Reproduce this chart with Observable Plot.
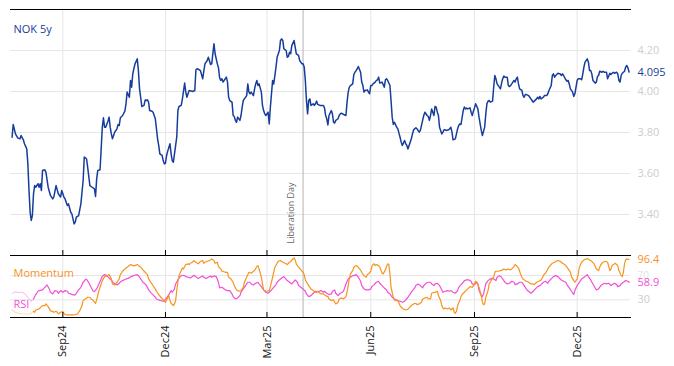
<!DOCTYPE html>
<html><head><meta charset="utf-8">
<script src="https://cdn.jsdelivr.net/npm/d3@7"></script>
<script src="https://cdn.jsdelivr.net/npm/@observablehq/plot@0.6"></script>
<style>
body{margin:0;background:#fff;font-family:"Open Sans",sans-serif;}
#wrap{position:relative;width:674px;height:366px;overflow:hidden;background:#fff;}
#top{position:absolute;left:0;top:0;}
#bot{position:absolute;left:0;top:250px;}
</style></head>
<body><div id="wrap"><div id="top"></div><div id="bot"></div></div>
<script>
// Day offsets are counted from 2024-09-01
const baseDate = "2024-09-01";
const monthTickDates = ["2024-09-01","2024-12-01","2025-03-01","2025-06-01","2025-09-01","2025-12-01"];
const eventDate = "2025-04-02";
const eventLabel = "Liberation Day";
const seriesName = "NOK 5y";
const nokTicks = [3.4, 3.6, 3.8, 4.0, 4.2];
const oscTicks = [30, 70];
const lastNok = 4.095, lastMom = 96.4, lastRsi = 58.9;
const warmupEnd = -26;

const nokSeries = [[-45,3.777],[-44,3.839],[-42,3.793],[-40,3.774],[-38,3.769],[-37,3.785],[-35,3.764],[-34,3.745],[-32,3.720],[-31,3.647],[-30,3.517],[-29,3.411],[-28,3.371],[-27,3.395],[-26,3.501],[-25,3.541],[-24,3.533],[-22,3.550],[-21,3.533],[-20,3.550],[-19,3.517],[-18,3.615],[-16,3.618],[-15,3.607],[-13,3.533],[-11,3.493],[-9,3.476],[-8,3.485],[-6,3.541],[-4,3.501],[-2,3.485],[-1,3.517],[1,3.485],[2,3.476],[4,3.444],[5,3.452],[7,3.411],[8,3.403],[9,3.379],[10,3.354],[11,3.363],[12,3.387],[14,3.395],[16,3.452],[18,3.566],[19,3.680],[21,3.672],[22,3.631],[24,3.541],[26,3.533],[28,3.525],[29,3.488],[30,3.574],[31,3.615],[33,3.618],[34,3.720],[35,3.826],[36,3.872],[37,3.826],[38,3.826],[40,3.855],[41,3.875],[42,3.826],[43,3.793],[44,3.769],[46,3.802],[47,3.810],[48,3.818],[49,3.839],[50,3.834],[51,3.872],[53,3.883],[55,3.904],[56,3.940],[57,3.997],[59,3.972],[60,4.054],[61,4.021],[62,4.086],[63,4.111],[64,4.135],[66,4.159],[67,4.102],[68,4.013],[69,3.972],[70,3.927],[72,3.932],[73,3.959],[74,3.956],[75,3.959],[76,3.948],[77,3.907],[79,3.904],[80,3.899],[82,3.867],[84,3.769],[85,3.737],[86,3.696],[88,3.688],[89,3.663],[90,3.647],[91,3.650],[92,3.688],[93,3.709],[95,3.745],[96,3.696],[97,3.663],[98,3.655],[99,3.696],[101,3.777],[102,3.907],[103,3.927],[105,3.932],[106,3.964],[108,4.041],[109,3.997],[110,3.972],[111,3.989],[112,4.005],[114,4.002],[115,4.000],[117,4.005],[118,4.106],[119,4.111],[121,4.106],[122,4.102],[124,4.062],[125,4.099],[126,4.135],[128,4.151],[129,4.167],[131,4.132],[132,4.135],[134,4.233],[135,4.184],[137,4.135],[138,4.115],[139,4.067],
[140,4.054],[141,4.062],[142,4.046],[144,4.062],[145,4.070],[146,4.046],[147,3.972],[148,3.956],[150,3.948],[151,3.883],[152,3.878],[153,3.859],[154,3.850],[155,3.875],[157,3.859],[158,3.883],[159,3.924],[160,3.956],[161,3.964],[163,3.980],[164,4.037],[165,3.997],[166,3.989],[167,3.997],[169,3.980],[170,4.013],[171,4.037],[172,4.054],[173,4.029],[174,4.037],[176,3.997],[177,3.932],[178,3.907],[179,3.891],[180,3.883],[182,3.899],[183,3.842],[184,3.924],[185,3.989],[186,4.054],[187,4.037],[189,4.119],[190,4.167],[192,4.200],[193,4.249],[194,4.257],[195,4.249],[196,4.208],[198,4.200],[199,4.167],[200,4.171],[201,4.192],[202,4.184],[203,4.224],[205,4.249],[206,4.216],[207,4.184],[208,4.180],[209,4.176],[210,4.151],[212,4.135],[213,4.135],[214,4.119],[215,4.054],[216,3.956],[217,3.891],[218,3.956],[219,3.964],[220,3.932],[222,3.940],[223,3.932],[224,3.940],[225,3.953],[226,3.937],[228,3.932],[229,3.932],[231,3.932],[232,3.920],[233,3.883],[234,3.867],[235,3.837],[236,3.883],[238,3.907],[239,3.891],[240,3.850],[241,3.846],[242,3.859],[244,3.867],[245,3.883],[246,3.891],[247,3.894],[249,3.888],[251,3.883],[252,3.948],[253,3.997],[254,4.021],[255,4.029],[257,4.037],[258,4.083],[259,4.094],[260,4.102],[261,4.111],[262,4.122],[264,4.094],[265,4.046],[266,4.029],[267,3.997],[268,4.005],[270,4.008],[271,3.997],[272,3.989],[273,4.029],[274,4.029],[275,4.037],[277,4.046],[278,4.054],[279,4.057],[280,4.070],[281,4.041],[283,4.046],[284,4.034],[285,4.021],[286,4.057],[287,4.062],[288,4.054],[290,4.029],[291,3.956],[292,3.875],[293,3.839],[294,3.850],[296,3.826],[297,3.818],[298,3.797],[299,3.777],[300,3.753],[301,3.737],[303,3.761],[304,3.745],[305,3.737],[306,3.720],[307,3.737],[309,3.769],[310,3.793],[311,3.813],[313,3.823],[314,3.818],[315,3.810],[316,3.802],[317,3.810],[319,3.859],[320,3.883],[321,3.899],
[323,3.883],[324,3.878],[325,3.859],[326,3.883],[327,3.915],[329,3.883],[330,3.927],[331,3.924],[332,3.899],[333,3.883],[334,3.826],[336,3.793],[337,3.802],[338,3.813],[339,3.813],[340,3.810],[342,3.813],[343,3.818],[344,3.826],[345,3.802],[346,3.764],[348,3.769],[349,3.793],[350,3.818],[351,3.834],[352,3.842],[353,3.839],[355,3.907],[356,3.924],[357,3.915],[358,3.919],[359,3.915],[361,3.920],[362,3.899],[363,3.883],[364,3.904],[365,3.920],[366,3.940],[368,3.915],[369,3.875],[370,3.842],[371,3.810],[372,3.785],[374,3.826],[375,3.891],[376,3.940],[377,3.953],[378,3.956],[379,3.948],[381,3.953],[382,4.021],[383,4.078],[384,4.062],[385,4.037],[387,4.021],[388,4.013],[389,4.041],[390,4.062],[391,4.075],[392,4.070],[394,4.070],[395,4.029],[396,4.024],[397,4.029],[398,4.037],[400,4.054],[401,4.046],[402,4.062],[403,4.070],[404,4.037],[405,4.013],[407,4.005],[408,3.980],[409,3.972],[410,3.985],[411,3.985],[413,3.980],[414,3.972],[415,3.964],[416,3.956],[417,3.948],[418,3.953],[420,3.964],[421,3.972],[422,3.964],[423,3.976],[424,3.964],[426,3.972],[427,3.980],[428,3.980],[429,3.980],[430,3.989],[431,4.005],[433,4.029],[434,4.078],[435,4.086],[436,4.070],[437,4.078],[439,4.089],[440,4.086],[441,4.086],[442,4.078],[443,4.086],[444,4.078],[446,4.057],[447,4.050],[448,4.054],[449,4.037],[450,4.013],[452,3.997],[453,3.976],[454,3.989],[455,4.021],[456,4.054],[457,4.062],[459,4.062],[460,4.057],[461,4.086],[462,4.119],[463,4.143],[465,4.159],[466,4.143],[467,4.102],[468,4.102],[469,4.086],[470,4.054],[472,4.041],[473,4.046],[474,4.073],[475,4.078],[476,4.099],[478,4.094],[479,4.099],[480,4.094],[481,4.094],[482,4.094],[483,4.062],[485,4.089],[486,4.083],[487,4.089],[488,4.094],[489,4.089],[491,4.094],[492,4.086],[493,4.054],[494,4.046],[495,4.078],[496,4.089],[498,4.099],[499,4.119],[500,4.127],[501,4.115],[502,4.095]];

const momentumSeries = [[-45,13.4],[-42,9.6],[-39,7.9],[-36,6.8],[-33,6.8],[-30,6.8],[-28,7.9],[-26,11.2],[-25,9.6],[-24,13.4],[-21,15.1],[-19,18.9],[-18,20.6],[-16,20.6],[-15,23.3],[-13,18.9],[-11,12.3],[-9,10.7],[-8,9.6],[-6,11.2],[-5,9.6],[-4,6.8],[-2,9.6],[0,10.7],[1,7.9],[2,5.8],[4,5.2],[6,5.2],[8,5.2],[9,5.2],[11,5.8],[13,6.8],[15,12.3],[17,20.6],[18,28.8],[20,31.5],[22,34.3],[24,34.3],[25,31.5],[27,28.8],[29,24.4],[30,29.9],[32,45.3],[34,56.2],[35,61.7],[37,68.3],[39,69.4],[41,71.6],[43,64.5],[44,56.2],[46,54.6],[48,59.0],[50,64.5],[51,71.6],[53,77.1],[55,80.9],[57,83.7],[59,86.4],[60,88.1],[62,86.4],[64,86.4],[66,88.1],[67,86.4],[69,83.7],[71,79.3],[73,75.4],[75,71.6],[76,64.5],[78,59.0],[80,53.5],[82,48.0],[83,44.2],[85,38.7],[87,34.3],[89,29.9],[90,27.7],[91,26.0],[92,29.9],[94,37.0],[95,28.8],[96,24.4],[98,20.6],[99,23.3],[100,28.8],[101,45.3],[102,59.0],[103,69.9],[105,78.2],[106,82.6],[107,80.9],[108,84.8],[109,88.1],[111,89.2],[112,88.1],[113,90.2],[115,91.9],[116,94.6],[118,91.9],[120,89.2],[122,93.5],[124,94.6],[125,90.2],[126,91.9],[128,93.5],[130,94.6],[132,97.4],[134,94.6],[135,90.2],[137,91.9],[138,84.8],[140,80.9],
[141,77.1],[142,77.1],[144,75.4],[146,75.4],[147,67.2],[149,64.5],[151,59.0],[152,53.5],[154,46.4],[156,44.2],[158,45.3],[160,50.7],[161,59.0],[163,67.2],[165,75.4],[167,73.8],[168,75.4],[170,78.2],[172,84.8],[173,86.4],[174,80.9],[176,67.2],[177,56.2],[178,46.4],[180,44.2],[181,44.2],[183,45.3],[184,51.8],[186,67.2],[188,83.7],[190,90.2],[191,93.5],[193,94.6],[195,91.9],[197,90.2],[199,88.1],[200,90.2],[201,91.9],[202,93.0],[203,95.7],[205,99.0],[206,95.7],[207,89.2],[208,86.4],[209,83.7],[211,79.3],[213,75.4],[214,71.6],[215,62.8],[217,56.2],[219,50.7],[220,48.0],[222,45.3],[224,42.5],[226,44.2],[228,40.9],[229,39.8],[231,39.8],[233,37.0],[235,35.4],[236,31.5],[238,28.8],[240,29.9],[242,23.3],[244,26.0],[245,31.5],[247,33.2],[249,31.5],[251,35.4],[252,42.5],[254,64.5],[255,72.7],[257,78.2],[258,83.7],[260,86.4],[261,85.3],[262,83.7],[263,80.9],[264,79.3],[265,75.4],[267,69.9],[268,68.3],[269,67.2],[270,71.6],[271,72.7],[273,77.1],[274,84.8],[275,88.1],[276,89.2],[277,86.4],[278,88.1],[280,86.4],[281,83.7],[282,79.3],[283,73.8],[284,72.7],[286,79.3],[287,84.8],[288,89.2],[289,88.1],[290,72.7],[291,50.7],[293,34.3],[294,29.9],[295,28.8],[297,28.8],[299,20.6],[300,17.8],[302,15.1],[304,13.4],[306,15.1],[307,16.7],[309,20.6],[311,23.3],[313,24.4],[314,22.2],[316,23.3],[318,26.0],[319,31.5],[321,33.2],[323,34.3],[324,31.5],[326,31.5],
[327,40.9],[329,42.5],[330,42.5],[332,44.2],[333,37.0],[335,28.8],[336,20.6],[337,16.7],[338,15.1],[339,16.7],[341,15.1],[343,16.7],[344,13.4],[346,16.7],[347,9.6],[348,7.9],[349,11.2],[350,20.6],[352,28.8],[353,35.4],[354,38.7],[356,42.5],[358,46.4],[359,48.0],[361,51.8],[363,50.7],[365,56.2],[366,60.6],[367,59.0],[369,50.7],[371,37.0],[372,26.0],[373,22.2],[374,23.3],[375,34.3],[377,45.3],[378,56.2],[380,62.8],[382,67.2],[383,75.4],[384,77.1],[386,77.1],[388,78.2],[390,79.3],[391,80.9],[393,79.3],[395,80.9],[397,79.3],[398,80.9],[400,84.8],[401,88.1],[402,86.4],[404,82.6],[405,77.1],[406,71.6],[407,67.2],[408,64.5],[410,61.7],[411,60.6],[413,59.0],[415,56.2],[417,56.2],[418,55.1],[420,59.0],[422,60.6],[424,62.8],[425,66.1],[427,72.7],[428,73.8],[430,80.9],[432,86.4],[434,90.2],[436,91.9],[437,93.5],[439,94.6],[441,93.5],[443,90.2],[444,89.2],[446,86.4],[448,80.9],[450,75.4],[451,68.3],[453,61.7],[454,59.0],[456,64.5],[457,72.7],[458,83.7],[459,88.1],[460,91.9],[462,95.7],[464,97.4],[466,97.4],[467,95.7],[469,93.5],[471,89.2],[473,80.9],[475,78.2],[476,83.7],[477,88.1],[479,91.9],[481,93.5],[483,91.9],[485,78.2],[486,80.9],[487,86.4],[489,89.2],[490,90.2],[491,88.1],[492,86.4],[493,78.2],[495,69.9],[496,68.3],[497,75.4],[498,89.2],[499,95.7],[500,97.4],[502,96.4]];

const rsiSeries = [[-45,40.9],[-42,43.1],[-39,42.0],[-36,42.5],[-33,38.7],[-30,31.5],[-28,27.7],[-26,31.5],[-24,38.7],[-22,44.2],[-21,45.3],[-18,46.4],[-16,50.7],[-14,54.6],[-12,48.0],[-11,42.5],[-9,39.8],[-7,45.3],[-5,44.2],[-4,40.9],[-2,45.3],[0,42.5],[2,45.3],[4,44.2],[5,40.9],[7,39.8],[9,38.1],[11,38.1],[12,40.9],[14,46.4],[16,50.7],[18,59.0],[20,63.4],[21,63.9],[23,58.4],[25,50.7],[27,44.2],[28,43.6],[30,48.0],[32,56.2],[34,64.5],[35,68.8],[37,71.6],[39,69.9],[41,66.1],[43,62.8],[44,60.1],[46,56.2],[48,54.6],[50,57.3],[51,59.5],[53,61.7],[55,63.4],[57,65.0],[59,66.1],[60,67.8],[62,69.4],[64,70.5],[66,71.6],[67,69.9],[69,64.5],[71,59.0],[73,56.2],[75,50.7],[76,46.4],[78,42.0],[80,38.1],[82,34.3],[83,31.5],[85,29.9],[87,28.8],[89,27.7],[90,28.8],[92,33.2],[94,38.7],[96,45.3],[97,42.5],[99,48.0],[100,56.2],[102,62.8],[104,68.3],[106,70.5],[108,69.9],[109,68.3],[111,67.2],[113,66.1],[115,68.3],[116,70.5],[118,68.3],[120,65.0],[122,67.2],[124,69.4],[125,67.2],[127,65.0],[129,67.2],[131,69.4],[132,67.2],[134,69.4],[136,68.3],[138,59.0],[139,49.6],
[141,50.7],[142,49.6],[144,46.4],[146,45.3],[148,45.3],[150,39.8],[151,35.4],[153,31.5],[155,33.2],[157,37.0],[158,42.5],[160,48.0],[162,53.5],[164,59.0],[166,59.0],[167,56.2],[169,54.6],[171,57.3],[173,59.0],[174,56.2],[176,51.8],[178,46.4],[180,42.5],[182,40.9],[183,42.5],[185,46.4],[187,50.7],[189,55.1],[190,59.0],[192,62.8],[194,66.1],[196,68.3],[197,66.1],[199,61.7],[201,59.0],[203,56.2],[205,60.6],[206,62.8],[208,59.0],[209,53.5],[211,50.7],[213,48.0],[215,44.2],[216,39.8],[218,35.4],[220,37.0],[222,40.9],[224,44.2],[225,42.5],[227,44.2],[229,45.3],[231,42.5],[232,44.2],[234,40.9],[236,38.7],[238,39.8],[239,44.2],[241,46.4],[242,40.9],[244,37.0],[246,40.9],[248,42.5],[249,45.3],[251,56.2],[253,64.5],[255,67.2],[257,69.9],[258,69.9],[260,71.6],[262,67.2],[264,60.6],[265,53.5],[267,48.0],[269,46.4],[271,46.4],[273,48.0],[274,51.8],[276,55.1],[278,59.0],[280,60.6],[281,57.3],[283,53.5],[285,49.6],[287,46.4],[288,42.5],[290,39.8],[292,34.3],[294,31.5],[296,29.9],[297,28.8],[299,27.7],[301,26.0],[303,27.7],[304,29.9],[306,34.3],[308,39.8],[310,45.3],[312,49.6],[313,53.5],[315,56.2],[317,53.5],[319,49.6],[320,53.5],[322,57.3],[324,59.0],[326,59.0],
[327,56.2],[329,53.5],[330,56.2],[332,57.3],[334,53.5],[336,46.4],[337,42.5],[339,44.2],[341,45.3],[343,44.2],[344,45.3],[346,42.5],[348,40.9],[350,45.3],[351,50.7],[353,55.1],[355,59.0],[356,61.7],[358,62.8],[360,62.8],[362,60.6],[363,56.2],[365,55.1],[367,59.0],[368,56.2],[369,45.3],[371,37.0],[372,35.4],[373,39.8],[374,48.0],[375,56.2],[377,61.7],[379,64.5],[381,65.6],[382,64.5],[384,61.7],[385,67.2],[387,69.9],[389,67.2],[391,61.7],[392,59.0],[394,56.2],[396,57.3],[398,60.6],[400,59.0],[401,55.1],[403,56.2],[405,59.0],[407,59.0],[408,56.2],[410,50.7],[412,45.3],[414,42.5],[415,40.9],[417,44.2],[419,48.0],[421,51.8],[423,53.5],[424,55.1],[426,59.0],[428,60.6],[430,57.3],[431,60.6],[433,64.5],[435,68.3],[437,69.9],[439,68.3],[440,66.1],[442,62.8],[444,60.6],[446,59.0],[447,55.1],[449,49.6],[451,44.2],[453,38.7],[454,45.3],[456,53.5],[458,59.0],[460,64.5],[462,67.2],[463,68.3],[465,71.6],[466,68.3],[468,62.8],[470,56.2],[472,49.6],[473,46.4],[475,48.0],[477,53.5],[479,56.2],[480,57.3],[482,56.2],[484,57.3],[486,53.5],[488,56.2],[489,57.3],[491,55.1],[492,51.8],[494,53.5],[495,56.2],[497,59.0],[499,61.7],[501,60.6],[502,58.9]];

const BLUE = "#173d9c", ORANGE = "#f7931e", PINK = "#f24fd6";
const GRID = "#e6e6e6", AXISGRAY = "#cdcdcd";
const FONT = "Open Sans";

const base = new Date(baseDate + "T00:00:00Z").getTime();
const toDate = d => new Date(base + d * 864e5);
const toRows = s => s.map(([d, v]) => ({day: d, date: toDate(d), v}));
const nok = toRows(nokSeries), mom = toRows(momentumSeries), rsi = toRows(rsiSeries);
const monthTicks = monthTickDates.map(s => new Date(s + "T00:00:00Z"));
const evDate = new Date(eventDate + "T00:00:00Z");
const xDomain = [toDate(-46.4), toDate(503.3)];

const common = {
  width: 674, marginLeft: 10, marginRight: 44,
  style: {fontFamily: FONT, fontSize: "11px", background: "transparent", overflow: "visible"},
  x: {type: "utc", domain: xDomain}
};

const topPlot = Plot.plot({
  ...common,
  height: 256, marginTop: 9, marginBottom: 1,
  y: {domain: [3.2, 4.4]},
  marks: [
    Plot.gridX(monthTicks, {stroke: GRID, strokeOpacity: 1}),
    Plot.gridY(nokTicks, {stroke: GRID, strokeOpacity: 1}),
    Plot.ruleX([evDate], {stroke: "#b4b4b4", strokeWidth: 1}),
    Plot.text([eventLabel], {x: () => evDate, y: () => 3.259, text: d => d, rotate: -90, textAnchor: "start", dx: -12, fill: "#666", fontSize: 9, fontFamily: FONT}),
    Plot.line(nok, {x: "date", y: "v", stroke: BLUE, strokeWidth: 1.5}),
    Plot.text([seriesName], {frameAnchor: "top-left", text: d => d, dx: 3, dy: 16, fill: BLUE, fontSize: 11, textAnchor: "start"}),
    Plot.frame({anchor: "top", stroke: "#000"}),
    Plot.frame({anchor: "bottom", stroke: "#000"}),
    Plot.axisX(monthTicks, {anchor: "bottom", tickSize: -5, tickFormat: () => "", label: null, stroke: "#000"}),
    Plot.axisY(nokTicks, {anchor: "right", tickSize: 0, tickPadding: 7, tickFormat: d3.format(".2f"), fill: AXISGRAY, label: null, fontSize: 11}),
    Plot.axisY([lastNok], {anchor: "right", tickSize: 0, tickPadding: 7, tickFormat: d3.format(".3f"), fill: BLUE, label: null, fontSize: 11})
  ]
});
document.getElementById("top").append(topPlot);

const botPlot = Plot.plot({
  ...common,
  height: 116, marginTop: 5, marginBottom: 49,
  y: {domain: [1, 103]},
  marks: [
    Plot.gridX(monthTicks, {stroke: GRID, strokeOpacity: 1}),
    Plot.gridY(oscTicks, {stroke: GRID, strokeOpacity: 1}),
    Plot.ruleX([evDate], {stroke: "#b4b4b4", strokeWidth: 1}),
    Plot.line(rsi, {filter: d => d.day <= warmupEnd, x: "date", y: "v", stroke: PINK, strokeWidth: 1.2, strokeOpacity: 0.3}),
    Plot.line(mom, {filter: d => d.day <= warmupEnd, x: "date", y: "v", stroke: ORANGE, strokeWidth: 1.2, strokeOpacity: 0.3}),
    Plot.line(rsi, {filter: d => d.day >= warmupEnd, x: "date", y: "v", stroke: PINK, strokeWidth: 1.2}),
    Plot.line(mom, {filter: d => d.day >= warmupEnd, x: "date", y: "v", stroke: ORANGE, strokeWidth: 1.2}),
    Plot.text(["Momentum"], {frameAnchor: "top-left", text: d => d, dx: 3, dy: 13.5, fill: ORANGE, fontSize: 11, textAnchor: "start"}),
    Plot.text(["RSI"], {frameAnchor: "bottom-left", text: d => d, dx: 3, dy: -10, fill: PINK, fontSize: 11, textAnchor: "start"}),
    Plot.frame({anchor: "top", stroke: "#000"}),
    Plot.frame({anchor: "bottom", stroke: "#000"}),
    Plot.axisX(monthTicks, {anchor: "bottom", tickSize: -5, tickPadding: 13, tickRotate: -90, tickFormat: d3.utcFormat("%b%y"), label: null, stroke: "#000", fill: "#111", fontSize: 11}),
    Plot.axisY([30], {anchor: "right", tickSize: 0, tickPadding: 7, fill: AXISGRAY, label: null, fontSize: 11}),
    Plot.axisY([70], {anchor: "right", tickSize: 0, tickPadding: 7, fill: AXISGRAY, fillOpacity: 0.6, label: null, fontSize: 10}),
    Plot.axisY([lastRsi], {anchor: "right", tickSize: 0, tickPadding: 7, tickFormat: d3.format(".1f"), fill: PINK, stroke: "white", strokeWidth: 3, paintOrder: "stroke", label: null, fontSize: 11}),
    Plot.axisY([lastMom], {anchor: "right", tickSize: 0, tickPadding: 7, tickFormat: d3.format(".1f"), fill: ORANGE, label: null, fontSize: 11})
  ]
});
document.getElementById("bot").append(botPlot);
</script>
</body></html>
